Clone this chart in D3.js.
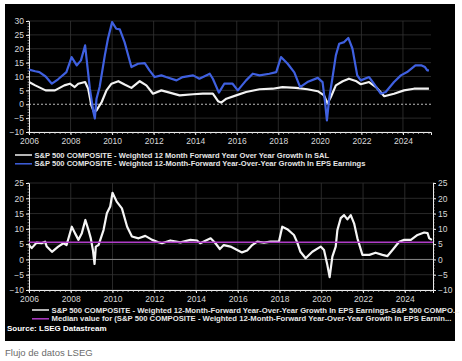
<!DOCTYPE html>
<html>
<head>
<meta charset="UTF-8">
<script src="https://d3js.org/d3.v7.min.js"></script>
<style>
  body { margin: 0; background: #fff; }
  svg text { font-family: Arial, "Liberation Sans", sans-serif; }
</style>
</head>
<body>
<svg id="chart" width="462" height="361"></svg>
<script>
// data: [decimal year, value in %]
const epsGrowth = [[2006.0,12.5],[2006.3,11.9],[2006.5,11.6],[2006.8,10],[2007.1,7.4],[2007.4,9],[2007.8,11.6],[2008.05,17],[2008.3,14],[2008.5,15.8],[2008.7,21.2],[2008.77,16.4],[2008.93,5.6],[2009.1,-2.8],[2009.17,-5.1],[2009.25,2],[2009.4,6.2],[2009.65,17.6],[2009.8,23.6],[2010.0,29.6],[2010.2,27.2],[2010.37,27],[2010.6,22.4],[2010.93,13.4],[2011.25,14.6],[2011.57,14.8],[2011.8,12.2],[2012.05,9.8],[2012.37,10.4],[2012.6,9.8],[2013.1,8.6],[2013.4,9.8],[2013.9,10.4],[2014.2,9.2],[2014.7,11],[2014.85,9.2],[2015.14,4.2],[2015.4,7.4],[2015.8,7.4],[2016.05,5],[2016.45,8.6],[2016.77,11],[2017.1,10.4],[2017.57,11],[2017.9,11.6],[2018.13,17],[2018.45,14.6],[2018.77,11.5],[2019.05,6.2],[2019.4,8],[2019.9,9.5],[2020.13,8],[2020.25,0.8],[2020.34,-5.8],[2020.45,2],[2020.6,9.2],[2020.77,17.6],[2020.93,21.8],[2021.17,22.4],[2021.37,23.9],[2021.57,20],[2021.8,10.4],[2021.97,8.6],[2022.37,9.8],[2022.6,7.4],[2022.93,3.8],[2023.17,4.4],[2023.57,8],[2023.9,10.4],[2024.2,11.6],[2024.6,14],[2024.9,14],[2025.06,13.4],[2025.17,12.2],[2025.25,12.2]];

const salGrowth = [[2006.0,8],[2006.3,6.8],[2006.8,5],[2007.25,5],[2007.7,6.8],[2007.97,7.4],[2008.2,6.2],[2008.37,7.4],[2008.7,8],[2008.85,5.6],[2009.0,-0.4],[2009.13,-2.8],[2009.25,-2.2],[2009.5,0.8],[2009.73,5],[2009.97,7.4],[2010.3,8.3],[2010.6,7.1],[2010.93,5.9],[2011.33,8.3],[2011.65,6.8],[2011.97,3.8],[2012.37,5],[2012.77,4.2],[2013.25,3.2],[2013.9,3.6],[2014.37,3.8],[2014.85,3.8],[2015.1,1.1],[2015.25,0.6],[2015.5,2],[2015.97,3.2],[2016.45,4.4],[2017.1,5.4],[2017.73,5.6],[2018.2,6.2],[2018.85,5.9],[2019.4,5.4],[2019.9,4.7],[2020.2,3.2],[2020.37,0.3],[2020.53,2.6],[2020.77,6.8],[2021.1,8.3],[2021.4,9.2],[2021.73,8.4],[2021.97,7.2],[2022.37,8],[2022.7,6.2],[2023.1,2.9],[2023.57,3.8],[2024.05,5],[2024.53,5.6],[2025.25,5.6]];

const epsMinusSal = [[2006.0,4.7],[2006.13,3.7],[2006.37,5.5],[2006.6,5.3],[2006.77,5.8],[2006.85,4.2],[2007.1,2.5],[2007.4,4.2],[2007.65,5.3],[2007.8,4.7],[2008.05,10.7],[2008.2,8.6],[2008.37,6.4],[2008.53,8.6],[2008.7,12.9],[2008.85,9.6],[2008.96,6.9],[2009.06,3.1],[2009.14,-1.5],[2009.2,4.2],[2009.33,4.7],[2009.57,9.6],[2009.73,15.1],[2009.89,17.3],[2010.0,21.8],[2010.2,18.9],[2010.45,16.7],[2010.7,10.7],[2010.93,7.5],[2011.25,6.9],[2011.57,7.7],[2011.9,6.4],[2012.2,5.6],[2012.37,5.3],[2012.77,6.2],[2013.25,5.6],[2013.73,6.4],[2014.05,6.2],[2014.2,5.3],[2014.7,6.9],[2014.93,5.3],[2015.14,3.4],[2015.33,4.7],[2015.65,4.2],[2015.97,3.1],[2016.2,2.3],[2016.45,2.9],[2016.69,4.7],[2016.93,5.8],[2017.25,5.5],[2017.57,5.8],[2017.97,5.8],[2018.13,10.7],[2018.37,9.9],[2018.69,8],[2018.85,5.5],[2019.0,2.5],[2019.25,0.4],[2019.57,2.5],[2019.97,4.2],[2020.13,3.1],[2020.29,-1.8],[2020.4,-5.8],[2020.53,0.9],[2020.69,4.2],[2020.77,9.6],[2020.93,13.5],[2021.09,14.5],[2021.25,13.1],[2021.41,14.5],[2021.57,11.8],[2021.73,6.9],[2021.97,1.5],[2022.3,1.5],[2022.6,2.2],[2022.93,1.5],[2023.17,1.1],[2023.41,3.1],[2023.73,5.8],[2023.97,6.4],[2024.29,6.4],[2024.61,8],[2024.93,8.8],[2025.09,8.6],[2025.17,6.9],[2025.3,6.4]];

const medianValue = 5.6;
const yearTicks = [2006, 2008, 2010, 2012, 2014, 2016, 2018, 2020, 2022, 2024];
const topYTicks = [30, 25, 20, 15, 10, 5, 0, -5, -10];
const bottomYTicks = [25, 20, 15, 10, 5, 0, -5, -10];

const topLegend = [
  { label: "S&P 500 COMPOSITE - Weighted 12 Month Forward Year Over Year Growth In SAL", color: "#f2f2f2" },
  { label: "S&P 500 COMPOSITE - Weighted 12-Month-Forward Year-Over-Year Growth In EPS Earnings", color: "#3f60e0" }
];
const bottomLegend = [
  { label: "S&P 500 COMPOSITE - Weighted 12-Month-Forward Year-Over-Year Growth In EPS Earnings-S&P 500 COMPO...", color: "#f2f2f2" },
  { label: "Median value for (S&P 500 COMPOSITE - Weighted 12-Month-Forward Year-Over-Year Growth In EPS Earnin...", color: "#b03cc8" }
];

const svg = d3.select("#chart");
const gridColor = "#333";
const textColor = "#d8d8d8";

// black panel
svg.append("rect").attr("x", 5).attr("y", 4).attr("width", 450).attr("height", 337).attr("fill", "#000");

function drawPanel(opts) {
  const x = d3.scaleLinear().domain([2006, 2025.35]).range([opts.left, opts.right]);
  const y = d3.scaleLinear().domain(opts.yDomain).range([opts.bottom, opts.top]);
  const g = svg.append("g");

  // grid
  g.selectAll(".hgrid").data(opts.yTicks.filter(d => d !== 0)).enter().append("line")
    .attr("x1", opts.left).attr("x2", opts.right)
    .attr("y1", d => y(d)).attr("y2", d => y(d))
    .attr("stroke", gridColor).attr("stroke-width", 0.8);
  g.selectAll(".vgrid").data(yearTicks.slice(1)).enter().append("line")
    .attr("x1", d => x(d)).attr("x2", d => x(d))
    .attr("y1", opts.top).attr("y2", opts.bottom)
    .attr("stroke", gridColor).attr("stroke-width", 0.8);

  // zero line
  g.append("line").attr("x1", opts.left).attr("x2", opts.right)
    .attr("y1", y(0)).attr("y2", y(0))
    .attr("stroke", opts.zeroColor).attr("stroke-width", 1)
    .attr("stroke-dasharray", opts.zeroDash);

  // bottom axis with quarterly minor ticks
  const xAxis = d3.axisBottom(x).tickValues(yearTicks).tickFormat(d3.format("d")).tickSize(3);
  const xa = g.append("g").attr("transform", `translate(0,${opts.bottom})`).call(xAxis);
  const minor = d3.range(2006, 2025.3, 0.25);
  xa.selectAll(".minor").data(minor).enter().append("line")
    .attr("x1", d => x(d)).attr("x2", d => x(d)).attr("y1", 0).attr("y2", 2)
    .attr("stroke", "#ddd").attr("stroke-width", 0.7);

  // left axis
  const ya = g.append("g").attr("transform", `translate(${opts.left},0)`)
    .call(d3.axisLeft(y).tickValues(opts.yTicks).tickSize(3));
  ya.selectAll(".minor").data(d3.range(opts.yDomain[0], opts.yDomain[1] + 0.1, 1)).enter().append("line")
    .attr("x1", 0).attr("x2", -1.5).attr("y1", d => y(d)).attr("y2", d => y(d))
    .attr("stroke", "#ddd").attr("stroke-width", 0.6);

  if (opts.rightAxis) {
    const ra = g.append("g").attr("transform", `translate(${opts.right},0)`)
      .call(d3.axisRight(y).tickValues(opts.yTicks).tickSize(3));
    ra.selectAll(".minor").data(d3.range(opts.yDomain[0], opts.yDomain[1] + 0.1, 1)).enter().append("line")
      .attr("x1", 0).attr("x2", 1.5).attr("y1", d => y(d)).attr("y2", d => y(d))
      .attr("stroke", "#ddd").attr("stroke-width", 0.6);
    ra.selectAll("text").attr("x", 5);
  }

  g.selectAll(".domain").attr("stroke", "#eee").attr("stroke-width", 1);
  g.selectAll(".tick line").attr("stroke", "#eee");
  g.selectAll(".tick text").attr("fill", textColor).attr("font-size", 8.5)
    .attr("font-family", "Arial, 'Liberation Sans', sans-serif");
  xa.selectAll(".tick text").attr("y", 6);
  ya.selectAll(".tick text").attr("x", -5);

  const line = d3.line().x(d => x(d[0])).y(d => y(d[1]));
  opts.series.forEach(s => {
    g.append("path").datum(s.data).attr("d", line)
      .attr("fill", "none").attr("stroke", s.color).attr("stroke-width", 2.2)
      .attr("stroke-linejoin", "round");
  });
  if (opts.median !== undefined) {
    g.append("line").attr("x1", opts.left).attr("x2", opts.right)
      .attr("y1", y(opts.median)).attr("y2", y(opts.median))
      .attr("stroke", "#b03cc8").attr("stroke-width", 1.4);
  }
}

drawPanel({
  left: 29, right: 431, top: 21, bottom: 132, yDomain: [-10, 30], yTicks: topYTicks,
  zeroColor: "#bbb", zeroDash: "2,2",
  series: [{ data: salGrowth, color: "#f2f2f2" }, { data: epsGrowth, color: "#3f60e0" }]
});

drawPanel({
  left: 29, right: 433, top: 183, bottom: 290, yDomain: [-10, 25], yTicks: bottomYTicks,
  zeroColor: "#888", zeroDash: null, rightAxis: true, median: medianValue,
  series: [{ data: epsMinusSal, color: "#f5f5f5" }]
});

function drawLegend(items, lx, ly, fs) {
  const lg = svg.append("g");
  items.forEach((it, i) => {
    const yy = ly + i * 8.8;
    lg.append("line").attr("x1", lx).attr("x2", lx + 17).attr("y1", yy).attr("y2", yy)
      .attr("stroke", it.color).attr("stroke-width", 1.5);
    lg.append("text").attr("x", lx + 19.5).attr("y", yy + 2.6)
      .attr("fill", "#e6e6e6").attr("font-size", fs).attr("font-weight", "bold")
      .text(it.label);
  });
}
drawLegend(topLegend, 15, 155, 7.55);
drawLegend(bottomLegend, 32, 310, 7.7);

svg.append("text").attr("x", 7).attr("y", 331).attr("fill", "#fff")
  .attr("font-size", 8).attr("font-weight", "bold").text("Source: LSEG Datastream");

svg.append("text").attr("x", 5).attr("y", 356).attr("fill", "#6b6b6b")
  .attr("font-size", 9.5).text("Flujo de datos LSEG");
</script>
</body>
</html>
